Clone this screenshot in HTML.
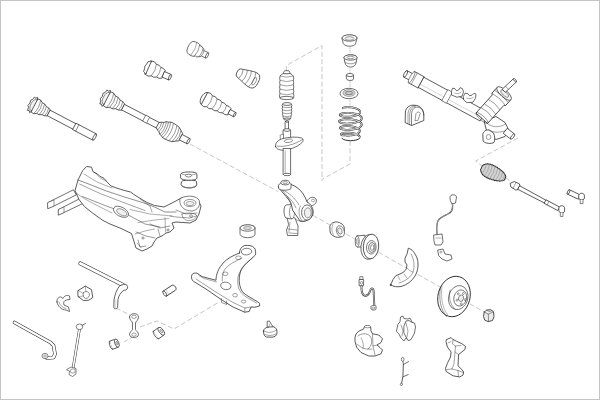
<!DOCTYPE html>
<html><head><meta charset="utf-8"><style>
html,body{margin:0;padding:0;background:#fff;font-family:"Liberation Sans",sans-serif;}
#c{position:relative;width:600px;height:400px;overflow:hidden;background:#fff;box-sizing:border-box;border:1px solid #c4c4c4;}
svg{position:absolute;left:-1px;top:-1px;}
</style></head><body><div id="c">
<svg width="600" height="400" viewBox="0 0 600 400">
<polyline points="286.4,71 286.4,65.5 322,45.5 322,181" fill="none" stroke="#8c8c8c" stroke-width="0.5" stroke-dasharray="5,2.5" stroke-linejoin="round"/>
<polyline points="350,141 350,164 322.5,179" fill="none" stroke="#8c8c8c" stroke-width="0.5" stroke-dasharray="5,2.5" stroke-linejoin="round"/>
<polyline points="190,144 278,191.5" fill="none" stroke="#8c8c8c" stroke-width="0.5" stroke-dasharray="5,2.5" stroke-linejoin="round"/>
<polyline points="300,208 495,318" fill="none" stroke="#8c8c8c" stroke-width="0.5" stroke-dasharray="5,2.5" stroke-linejoin="round"/>
<polyline points="518,138 475.7,161 482,166" fill="none" stroke="#8c8c8c" stroke-width="0.5" stroke-dasharray="5,2.5" stroke-linejoin="round"/>
<polyline points="505.5,177.5 511.5,182.3" fill="none" stroke="#8c8c8c" stroke-width="0.5" stroke-dasharray="5,2.5" stroke-linejoin="round"/>
<polyline points="140,327 157,321 174,329 219,302" fill="none" stroke="#8c8c8c" stroke-width="0.5" stroke-dasharray="5,2.5" stroke-linejoin="round"/>
<polyline points="116,308 130,315" fill="none" stroke="#8c8c8c" stroke-width="0.5" stroke-dasharray="5,2.5" stroke-linejoin="round"/>
<polyline points="134,336 124,342" fill="none" stroke="#8c8c8c" stroke-width="0.5" stroke-dasharray="5,2.5" stroke-linejoin="round"/>
<g transform="translate(33,104.7) rotate(27.7) scale(1)">
<path d="M4.40,0.00 L3.31,2.41 L3.37,5.66 L1.76,6.10 L0.76,8.67 L-0.61,6.93 L-2.20,7.62 L-2.70,4.53 L-4.13,3.01 L-3.52,0.00 L-4.13,-3.01 L-2.70,-4.53 L-2.20,-7.62 L-0.61,-6.93 L0.76,-8.67 L1.76,-6.10 L3.37,-5.66 L3.31,-2.41Z" fill="#fff" stroke="#303030" stroke-width="0.7" stroke-linejoin="round" stroke-linecap="round" />
<ellipse cx="0.8" cy="0" rx="3.0" ry="6.2" fill="#f2f2f2" stroke="#303030" stroke-width="0.5" transform="rotate(0 0.8 0)"/>
<path d="M2.00,-7.40 L4.67,-7.70 L7.33,-6.00 L10.00,-6.10 L12.67,-4.60 L15.33,-4.48 L18.00,-3.20 L18.00,3.20 L15.33,4.48 L12.67,4.60 L10.00,6.10 L7.33,6.00 L4.67,7.70 L2.00,7.40Z" fill="#fff" stroke="#303030" stroke-width="0.7" stroke-linejoin="round" stroke-linecap="round" />
<path d="M4.67,-7.70 Q7.36,0 4.67,7.70" fill="none" stroke="#303030" stroke-width="0.45"/>
<path d="M7.33,-6.00 Q9.43,0 7.33,6.00" fill="none" stroke="#303030" stroke-width="0.45"/>
<path d="M10.00,-6.10 Q12.13,0 10.00,6.10" fill="none" stroke="#303030" stroke-width="0.45"/>
<path d="M12.67,-4.60 Q14.28,0 12.67,4.60" fill="none" stroke="#303030" stroke-width="0.45"/>
<path d="M15.33,-4.48 Q16.90,0 15.33,4.48" fill="none" stroke="#303030" stroke-width="0.45"/>
<path d="M18,-3.1 L48,-3.1 L48,3.1 L18,3.1Z" fill="#fff" stroke="#303030" stroke-width="0.7" stroke-linejoin="round" stroke-linecap="round" />
<path d="M47,-3.6 L69.5,-3.6 L69.5,3.6 L47,3.6Z" fill="#fff" stroke="#303030" stroke-width="0.7" stroke-linejoin="round" stroke-linecap="round" />
<ellipse cx="69.5" cy="0" rx="1.2" ry="3.6" fill="#fff" stroke="#303030" stroke-width="0.7" transform="rotate(0 69.5 0)"/>
<line x1="50" y1="-3.6" x2="50" y2="3.6" stroke="#303030" stroke-width="0.5" stroke-linecap="round"/>
</g>
<g transform="translate(105.5,98) rotate(27.5) scale(1)">
<path d="M4.60,0.00 L3.46,2.52 L3.52,5.91 L1.84,6.37 L0.80,9.06 L-0.64,7.25 L-2.30,7.97 L-2.82,4.73 L-4.32,3.15 L-3.68,0.00 L-4.32,-3.15 L-2.82,-4.73 L-2.30,-7.97 L-0.64,-7.25 L0.80,-9.06 L1.84,-6.37 L3.52,-5.91 L3.46,-2.52Z" fill="#fff" stroke="#303030" stroke-width="0.7" stroke-linejoin="round" stroke-linecap="round" />
<ellipse cx="0.8" cy="0" rx="3.1" ry="6.5" fill="#f2f2f2" stroke="#303030" stroke-width="0.5" transform="rotate(0 0.8 0)"/>
<path d="M2.00,-7.80 L5.00,-8.13 L8.00,-6.33 L11.00,-6.44 L14.00,-4.87 L17.00,-4.75 L20.00,-3.40 L20.00,3.40 L17.00,4.75 L14.00,4.87 L11.00,6.44 L8.00,6.33 L5.00,8.13 L2.00,7.80Z" fill="#fff" stroke="#303030" stroke-width="0.7" stroke-linejoin="round" stroke-linecap="round" />
<path d="M5.00,-8.13 Q7.84,0 5.00,8.13" fill="none" stroke="#303030" stroke-width="0.45"/>
<path d="M8.00,-6.33 Q10.22,0 8.00,6.33" fill="none" stroke="#303030" stroke-width="0.45"/>
<path d="M11.00,-6.44 Q13.25,0 11.00,6.44" fill="none" stroke="#303030" stroke-width="0.45"/>
<path d="M14.00,-4.87 Q15.70,0 14.00,4.87" fill="none" stroke="#303030" stroke-width="0.45"/>
<path d="M17.00,-4.75 Q18.66,0 17.00,4.75" fill="none" stroke="#303030" stroke-width="0.45"/>
<path d="M20,-3.1 L60,-3.1 L60,3.1 L20,3.1Z" fill="#fff" stroke="#303030" stroke-width="0.7" stroke-linejoin="round" stroke-linecap="round" />
<path d="M44,-3.4 L48,-3.4 L48,3.4 L44,3.4Z" fill="#fff" stroke="#303030" stroke-width="0.5" stroke-linejoin="round" stroke-linecap="round" />
<path d="M59.00,-3.00 L61.00,-4.50 L63.00,-5.20 L65.00,-7.20 L67.00,-7.60 L69.00,-8.80 L72.00,-9.00 L76.00,-8.60 L79.00,-8.00 L82.00,-6.00 L85.00,-4.00 L85.00,4.00 L82.00,6.00 L79.00,8.00 L76.00,8.60 L72.00,9.00 L69.00,8.80 L67.00,7.60 L65.00,7.20 L63.00,5.20 L61.00,4.50 L59.00,3.00Z" fill="#fff" stroke="#303030" stroke-width="0.7" stroke-linejoin="round" stroke-linecap="round" />
<path d="M61.00,-4.50 Q62.58,0 61.00,4.50" fill="none" stroke="#303030" stroke-width="0.45"/>
<path d="M63.00,-5.20 Q64.82,0 63.00,5.20" fill="none" stroke="#303030" stroke-width="0.45"/>
<path d="M65.00,-7.20 Q67.52,0 65.00,7.20" fill="none" stroke="#303030" stroke-width="0.45"/>
<path d="M67.00,-7.60 Q69.66,0 67.00,7.60" fill="none" stroke="#303030" stroke-width="0.45"/>
<path d="M69.00,-8.80 Q72.08,0 69.00,8.80" fill="none" stroke="#303030" stroke-width="0.45"/>
<path d="M72.00,-9.00 Q75.15,0 72.00,9.00" fill="none" stroke="#303030" stroke-width="0.45"/>
<path d="M76.00,-8.60 Q79.01,0 76.00,8.60" fill="none" stroke="#303030" stroke-width="0.45"/>
<path d="M79.00,-8.00 Q81.80,0 79.00,8.00" fill="none" stroke="#303030" stroke-width="0.45"/>
<path d="M82.00,-6.00 Q84.10,0 82.00,6.00" fill="none" stroke="#303030" stroke-width="0.45"/>
<path d="M85,-3.0 L93.5,-3.0 L93.5,3.0 L85,3.0Z" fill="#fff" stroke="#303030" stroke-width="0.7" stroke-linejoin="round" stroke-linecap="round" />
<ellipse cx="93.5" cy="0" rx="1.1" ry="3.0" fill="#fff" stroke="#303030" stroke-width="0.7" transform="rotate(0 93.5 0)"/>
</g>
<g transform="translate(148,67.5) rotate(24) scale(1)">
<path d="M3.40,0.00 L2.67,2.47 L2.40,5.37 L1.11,5.97 L0.00,7.60 L-1.11,5.97 L-2.40,5.37 L-2.67,2.47 L-3.40,0.00 L-2.67,-2.47 L-2.40,-5.37 L-1.11,-5.97 L-0.00,-7.60 L1.11,-5.97 L2.40,-5.37 L2.67,-2.47Z" fill="#fff" stroke="#303030" stroke-width="0.7" stroke-linejoin="round" stroke-linecap="round" />
<path d="M1.00,-7.40 L3.67,-7.83 L6.33,-6.33 L9.00,-6.61 L11.67,-5.27 L14.33,-5.40 L17.00,-4.20 L17.00,4.20 L14.33,5.40 L11.67,5.27 L9.00,6.61 L6.33,6.33 L3.67,7.83 L1.00,7.40Z" fill="#fff" stroke="#303030" stroke-width="0.7" stroke-linejoin="round" stroke-linecap="round" />
<path d="M6.33,-6.33 Q8.55,0 6.33,6.33" fill="none" stroke="#303030" stroke-width="0.45"/>
<path d="M11.67,-5.27 Q13.51,0 11.67,5.27" fill="none" stroke="#303030" stroke-width="0.45"/>
<path d="M17,-3.0 L24,-3.0 L24,3.0 L17,3.0Z" fill="#fff" stroke="#303030" stroke-width="0.7" stroke-linejoin="round" stroke-linecap="round" />
<ellipse cx="24" cy="0" rx="1.1" ry="3.0" fill="#fff" stroke="#303030" stroke-width="0.7" transform="rotate(0 24 0)"/>
</g>
<g transform="translate(193.7,48.9) rotate(26) scale(0.9)">
<path d="M-6.50,-2.50 L-6.00,-5.00 L-4.50,-7.00 L-2.00,-7.90 L2.00,-7.90 L4.00,-7.20 L5.00,-6.20 L7.00,-6.50 L9.00,-5.20 L10.20,-4.80 L11.00,-3.30 L16.50,-3.30 L16.50,3.30 L11.00,3.30 L10.20,4.80 L9.00,5.20 L7.00,6.50 L5.00,6.20 L4.00,7.20 L2.00,7.90 L-2.00,7.90 L-4.50,7.00 L-6.00,5.00 L-6.50,2.50Z" fill="#fff" stroke="#303030" stroke-width="0.7" stroke-linejoin="round" stroke-linecap="round" />
<path d="M4,-7.2 Q6.52,0 4,7.2" fill="none" stroke="#303030" stroke-width="0.5"/>
<path d="M9,-5.2 Q10.82,0 9,5.2" fill="none" stroke="#303030" stroke-width="0.5"/>
<path d="M11,-3.3 Q12.155,0 11,3.3" fill="none" stroke="#303030" stroke-width="0.5"/>
<path d="M0,-7.9 Q2.5,0 0,7.9" fill="none" stroke="#303030" stroke-width="0.4"/>
<ellipse cx="16.5" cy="0" rx="1.2" ry="3.3" fill="#fff" stroke="#303030" stroke-width="0.7" transform="rotate(0 16.5 0)"/>
</g>
<g transform="translate(239.2,73) rotate(27) scale(1)">
<path d="M-2.20,-1.50 L-1.80,-3.20 L-0.50,-4.40 L2.00,-5.00 L4.00,-5.70 L6.00,-6.20 L8.00,-6.80 L10.00,-7.30 L12.00,-7.80 L14.50,-8.10 L17.00,-8.00 L19.00,-7.20 L20.30,-5.50 L21.00,-3.50 L21.20,-0.50 L21.20,0.50 L21.00,3.50 L20.30,5.50 L19.00,7.20 L17.00,8.00 L14.50,8.10 L12.00,7.80 L10.00,7.30 L8.00,6.80 L6.00,6.20 L4.00,5.70 L2.00,5.00 L-0.50,4.40 L-1.80,3.20 L-2.20,1.50Z" fill="#fff" stroke="#303030" stroke-width="0.7" stroke-linejoin="round" stroke-linecap="round" />
<path d="M2,-5.0 Q4.0,0 2,5.0" fill="none" stroke="#303030" stroke-width="0.45"/>
<path d="M6,-6.2 Q8.48,0 6,6.2" fill="none" stroke="#303030" stroke-width="0.45"/>
<path d="M10,-7.3 Q12.92,0 10,7.3" fill="none" stroke="#303030" stroke-width="0.45"/>
<path d="M14.5,-8.1 Q17.740000000000002,0 14.5,8.1" fill="none" stroke="#303030" stroke-width="0.45"/>
<ellipse cx="17.2" cy="0.5" rx="1.6" ry="4.2" fill="none" stroke="#303030" stroke-width="0.45" transform="rotate(0 17.2 0.5)"/>
</g>
<g transform="translate(203.8,98.2) rotate(28) scale(1)">
<path d="M1,-6.8 C-4,-6.8 -4,6.8 1,6.8 Z" fill="#fff" stroke="#303030" stroke-width="0.7" stroke-linejoin="round" stroke-linecap="round" />
<path d="M1.00,-6.80 L3.80,-7.52 L6.60,-6.16 L9.40,-6.77 L12.20,-5.52 L15.00,-6.03 L17.80,-4.88 L20.60,-5.29 L23.40,-4.24 L26.20,-4.55 L29.00,-3.60 L29.00,3.60 L26.20,4.55 L23.40,4.24 L20.60,5.29 L17.80,4.88 L15.00,6.03 L12.20,5.52 L9.40,6.77 L6.60,6.16 L3.80,7.52 L1.00,6.80Z" fill="#fff" stroke="#303030" stroke-width="0.7" stroke-linejoin="round" stroke-linecap="round" />
<path d="M6.60,-6.16 Q8.76,0 6.60,6.16" fill="none" stroke="#303030" stroke-width="0.45"/>
<path d="M12.20,-5.52 Q14.13,0 12.20,5.52" fill="none" stroke="#303030" stroke-width="0.45"/>
<path d="M17.80,-4.88 Q19.51,0 17.80,4.88" fill="none" stroke="#303030" stroke-width="0.45"/>
<path d="M23.40,-4.24 Q24.88,0 23.40,4.24" fill="none" stroke="#303030" stroke-width="0.45"/>
<path d="M29,-2.4 L35,-2.4 L35,2.4 L29,2.4Z" fill="#fff" stroke="#303030" stroke-width="0.7" stroke-linejoin="round" stroke-linecap="round" />
<ellipse cx="35" cy="0" rx="0.9" ry="2.4" fill="#fff" stroke="#303030" stroke-width="0.7" transform="rotate(0 35 0)"/>
</g>
<g transform="translate(286.7,71) rotate(90) scale(1)">
<path d="M0.00,-2.20 L1.20,-3.00 L2.50,-3.40 L3.50,-5.20 L5.00,-6.60 L7.20,-7.02 L9.40,-6.64 L11.60,-7.06 L13.80,-6.68 L16.00,-7.10 L18.20,-6.72 L20.40,-7.14 L22.60,-6.76 L24.80,-7.19 L27.00,-6.80 L27.00,6.80 L24.80,7.19 L22.60,6.76 L20.40,7.14 L18.20,6.72 L16.00,7.10 L13.80,6.68 L11.60,7.06 L9.40,6.64 L7.20,7.02 L5.00,6.60 L3.50,5.20 L2.50,3.40 L1.20,3.00 L0.00,2.20Z" fill="#fff" stroke="#303030" stroke-width="0.7" stroke-linejoin="round" stroke-linecap="round" />
<path d="M2.50,-3.40 Q3.69,0 2.50,3.40" fill="none" stroke="#303030" stroke-width="0.45"/>
<path d="M5.00,-6.60 Q7.31,0 5.00,6.60" fill="none" stroke="#303030" stroke-width="0.45"/>
<path d="M9.40,-6.64 Q11.72,0 9.40,6.64" fill="none" stroke="#303030" stroke-width="0.45"/>
<path d="M13.80,-6.68 Q16.14,0 13.80,6.68" fill="none" stroke="#303030" stroke-width="0.45"/>
<path d="M18.20,-6.72 Q20.55,0 18.20,6.72" fill="none" stroke="#303030" stroke-width="0.45"/>
<path d="M22.60,-6.76 Q24.97,0 22.60,6.76" fill="none" stroke="#303030" stroke-width="0.45"/>
<ellipse cx="27" cy="0" rx="1.6" ry="6.8" fill="#fff" stroke="#303030" stroke-width="0.7" transform="rotate(0 27 0)"/>
<line x1="2.5" y1="-3.3" x2="2.5" y2="3.3" stroke="#303030" stroke-width="0.45" stroke-linecap="round"/>
</g>
<g transform="translate(287,104) rotate(90) scale(1)">
<path d="M0.00,-4.30 L1.50,-4.90 L3.00,-4.30 L4.50,-4.90 L6.00,-4.30 L7.50,-4.80 L9.00,-4.20 L10.50,-4.60 L12.00,-4.00 L13.50,-3.90 L15.00,-3.20 L15.00,3.20 L13.50,3.90 L12.00,4.00 L10.50,4.60 L9.00,4.20 L7.50,4.80 L6.00,4.30 L4.50,4.90 L3.00,4.30 L1.50,4.90 L0.00,4.30Z" fill="#fff" stroke="#303030" stroke-width="0.7" stroke-linejoin="round" stroke-linecap="round" />
<path d="M3.00,-4.30 Q4.50,0 3.00,4.30" fill="none" stroke="#303030" stroke-width="0.45"/>
<path d="M6.00,-4.30 Q7.50,0 6.00,4.30" fill="none" stroke="#303030" stroke-width="0.45"/>
<path d="M9.00,-4.20 Q10.47,0 9.00,4.20" fill="none" stroke="#303030" stroke-width="0.45"/>
<path d="M12.00,-4.00 Q13.40,0 12.00,4.00" fill="none" stroke="#303030" stroke-width="0.45"/>
<ellipse cx="0" cy="0" rx="1.4" ry="4.3" fill="#fff" stroke="#303030" stroke-width="0.7" transform="rotate(0 0 0)"/>
<ellipse cx="15" cy="0" rx="1.0" ry="3.2" fill="#fff" stroke="#303030" stroke-width="0.7" transform="rotate(0 15 0)"/>
</g>
<path d="M285.5,121.5 L288.5,121.5 L288.5,130 L285.5,130Z" fill="#fff" stroke="#303030" stroke-width="0.7" stroke-linejoin="round" stroke-linecap="round" />
<ellipse cx="287" cy="121.5" rx="1.5" ry="0.7" fill="#fff" stroke="#303030" stroke-width="0.7" transform="rotate(0 287 121.5)"/>
<path d="M283.5,130 L290.6,130 L290.6,139 L283.5,139Z" fill="#fff" stroke="#303030" stroke-width="0.7" stroke-linejoin="round" stroke-linecap="round" />
<ellipse cx="287" cy="130" rx="3.55" ry="1.3" fill="#fff" stroke="#303030" stroke-width="0.7" transform="rotate(0 287 130)"/>
<path d="M280.5,135 L283.5,134 L283.5,139 L280.8,140Z" fill="#fff" stroke="#303030" stroke-width="0.5" stroke-linejoin="round" stroke-linecap="round" />
<path d="M275.5,146.5 C275,142.5 278,140 283,138.5 C289,137 297,136.5 301.5,138 C304,139 303.5,141.5 301,143.5 C297.5,146.5 291,149.5 285,150.2 C280,150.5 276,149 275.5,146.5Z" fill="#fff" stroke="#303030" stroke-width="0.7" stroke-linejoin="round" stroke-linecap="round" />
<path d="M277,146 C283,147.5 294,145 302.5,139.5" fill="none" stroke="#303030" stroke-width="0.5" stroke-linejoin="round" stroke-linecap="round" />
<ellipse cx="288.5" cy="140.8" rx="4.2" ry="1.7" fill="#fff" stroke="#303030" stroke-width="0.5" transform="rotate(-8 288.5 140.8)"/>
<path d="M283.5,148.5 L290.6,148.5 L290.6,174.5 L283.5,174.5Z" fill="#fff" stroke="#303030" stroke-width="0.7" stroke-linejoin="round" stroke-linecap="round" />
<ellipse cx="287" cy="174.5" rx="3.55" ry="1.2" fill="#fff" stroke="#303030" stroke-width="0.7" transform="rotate(0 287 174.5)"/>
<line x1="285.2" y1="151" x2="285.2" y2="172.5" stroke="#303030" stroke-width="0.4" stroke-linecap="round"/>
<path d="M342,38 C342,34 357,34 357,38 L355.5,44 C354,47 345,47 343.5,44Z" fill="#fff" stroke="#303030" stroke-width="0.7" stroke-linejoin="round" stroke-linecap="round" />
<ellipse cx="349.5" cy="38" rx="7.5" ry="3.2" fill="#fff" stroke="#303030" stroke-width="0.7" transform="rotate(0 349.5 38)"/>
<ellipse cx="349.5" cy="38.5" rx="4.5" ry="1.8" fill="#f2f2f2" stroke="#303030" stroke-width="0.5" transform="rotate(0 349.5 38.5)"/>
<path d="M344,57.5 C344,54 357,54 357,57.5 L356,63 C355,68.5 346,68.5 345,63Z" fill="#fff" stroke="#303030" stroke-width="0.7" stroke-linejoin="round" stroke-linecap="round" />
<ellipse cx="350.5" cy="57.5" rx="6.5" ry="2.7" fill="#fff" stroke="#303030" stroke-width="0.7" transform="rotate(0 350.5 57.5)"/>
<path d="M345,62 C347,64.5 354,64.5 356,62" fill="none" stroke="#303030" stroke-width="0.5" stroke-linejoin="round" stroke-linecap="round" />
<ellipse cx="350.5" cy="57.5" rx="3.5" ry="1.4" fill="#f2f2f2" stroke="#303030" stroke-width="0.5" transform="rotate(0 350.5 57.5)"/>
<path d="M346.5,75 L353.5,75 L353.5,79 C353.5,81 346.5,81 346.5,79Z" fill="#fff" stroke="#303030" stroke-width="0.7" stroke-linejoin="round" stroke-linecap="round" />
<ellipse cx="350" cy="75" rx="3.5" ry="1.6" fill="#fff" stroke="#303030" stroke-width="0.7" transform="rotate(0 350 75)"/>
<ellipse cx="349" cy="93.5" rx="9" ry="5.2" fill="#fff" stroke="#303030" stroke-width="0.7" transform="rotate(0 349 93.5)"/>
<ellipse cx="349" cy="93" rx="6" ry="3.3" fill="#fff" stroke="#303030" stroke-width="0.5" transform="rotate(0 349 93)"/>
<ellipse cx="349" cy="93" rx="3.5" ry="1.8" fill="#f0f0f0" stroke="#303030" stroke-width="0.5" transform="rotate(0 349 93)"/>
<line x1="345" y1="91.2" x2="345" y2="94.8" stroke="#303030" stroke-width="0.4" stroke-linecap="round"/>
<line x1="347" y1="91.2" x2="347" y2="94.8" stroke="#303030" stroke-width="0.4" stroke-linecap="round"/>
<line x1="349" y1="91.2" x2="349" y2="94.8" stroke="#303030" stroke-width="0.4" stroke-linecap="round"/>
<line x1="351" y1="91.2" x2="351" y2="94.8" stroke="#303030" stroke-width="0.4" stroke-linecap="round"/>
<line x1="353" y1="91.2" x2="353" y2="94.8" stroke="#303030" stroke-width="0.4" stroke-linecap="round"/>
<path d="M343.00,108.50 L342.87,108.40 L342.84,108.30 L342.86,108.19 L342.92,108.09 L343.03,107.98 L343.19,107.88 L343.39,107.78 L343.63,107.69 L343.91,107.60 L344.23,107.51 L344.59,107.44 L344.98,107.37 L345.41,107.31 L345.87,107.26 L346.35,107.22 L346.87,107.19 L347.41,107.17 L347.97,107.17 L348.54,107.18 L349.14,107.20 L349.75,107.23 L350.36,107.28 L350.98,107.35 L351.61,107.43 L352.24,107.52 L352.86,107.63 L353.48,107.75 L354.08,107.88 L354.67,108.03 L355.25,108.19 L355.81,108.37 L356.34,108.56 L356.85,108.76 L357.33,108.98 L357.78,109.20 L358.19,109.44 L358.57,109.68 L358.91,109.94 L359.21,110.20 L359.47,110.47 L359.68,110.74 L359.85,111.02 L359.98,111.31 L360.05,111.59 L360.08,111.88 L360.06,112.17 L359.99,112.46 L359.88,112.75 L359.71,113.04 L359.50,113.32 L359.24,113.59 L358.93,113.87 L358.58,114.13 L358.19,114.39 L357.76,114.63 L357.28,114.87 L356.77,115.10 L356.23,115.31 L355.65,115.52 L355.05,115.71 L354.42,115.88 L353.76,116.04 L353.09,116.19 L352.40,116.32 L351.69,116.44 L350.98,116.54 L350.26,116.62 L349.54,116.69 L348.82,116.74 L348.10,116.77 L347.40,116.79 L346.70,116.79 L346.02,116.77 L345.37,116.75 L344.73,116.70 L344.12,116.64 L343.54,116.57 L342.99,116.48 L342.48,116.38 L342.01,116.27 L341.58,116.15 L341.19,116.02 L340.84,115.88 L340.55,115.74 L340.30,115.58 L340.10,115.42 L339.96,115.26 L339.86,115.09 L339.82,114.93 L339.84,114.76 L339.90,114.59 L340.02,114.42 L340.20,114.26 L340.42,114.10 L340.70,113.94 L341.03,113.79 L341.41,113.65 L341.83,113.52 L342.30,113.40 L342.81,113.29 L343.36,113.19 L343.95,113.10 L344.57,113.03 L345.23,112.97 L345.91,112.93 L346.62,112.90 L347.35,112.89 L348.10,112.89 L348.86,112.92 L349.63,112.95 L350.41,113.01 L351.19,113.09 L351.97,113.18 L352.75,113.29 L353.51,113.42 L354.27,113.56 L355.00,113.72 L355.71,113.90 L356.40,114.10 L357.06,114.31 L357.69,114.53 L358.29,114.77 L358.85,115.03 L359.36,115.29 L359.84,115.57 L360.26,115.85 L360.64,116.15 L360.97,116.45 L361.25,116.77 L361.47,117.08 L361.64,117.40 L361.75,117.73 L361.81,118.06 L361.81,118.39 L361.75,118.71 L361.64,119.04 L361.47,119.36 L361.24,119.68 L360.96,120.00 L360.63,120.30 L360.25,120.60 L359.81,120.89 L359.33,121.17 L358.81,121.44 L358.24,121.69 L357.63,121.93 L356.99,122.16 L356.31,122.38 L355.61,122.57 L354.88,122.76 L354.12,122.92 L353.35,123.07 L352.56,123.20 L351.76,123.31 L350.95,123.40 L350.14,123.48 L349.33,123.53 L348.53,123.57 L347.73,123.59 L346.95,123.59 L346.19,123.58 L345.45,123.55 L344.73,123.50 L344.04,123.43 L343.39,123.35 L342.77,123.26 L342.18,123.15 L341.64,123.02 L341.15,122.89 L340.70,122.75 L340.30,122.59 L339.95,122.43 L339.65,122.26 L339.41,122.09 L339.22,121.91 L339.09,121.72 L339.02,121.53 L339.00,121.35 L339.05,121.16 L339.15,120.97 L339.30,120.79 L339.52,120.61 L339.78,120.44 L340.11,120.27 L340.48,120.12 L340.90,119.97 L341.37,119.83 L341.89,119.70 L342.45,119.59 L343.05,119.48 L343.69,119.40 L344.36,119.32 L345.06,119.27 L345.79,119.22 L346.54,119.20 L347.31,119.19 L348.09,119.20 L348.89,119.23 L349.69,119.28 L350.50,119.34 L351.31,119.43 L352.11,119.53 L352.90,119.65 L353.68,119.79 L354.44,119.94 L355.18,120.12 L355.90,120.30 L356.59,120.51 L357.25,120.73 L357.87,120.96 L358.46,121.21 L359.00,121.47 L359.50,121.74 L359.96,122.03 L360.37,122.32 L360.72,122.62 L361.03,122.93 L361.28,123.24 L361.48,123.56 L361.62,123.89 L361.71,124.21 L361.73,124.54 L361.71,124.86 L361.63,125.19 L361.49,125.51 L361.29,125.83 L361.05,126.14 L360.75,126.45 L360.40,126.75 L360.00,127.04 L359.55,127.32 L359.06,127.59 L358.53,127.84 L357.96,128.09 L357.36,128.32 L356.72,128.54 L356.05,128.74 L355.35,128.93 L354.64,129.10 L353.90,129.25 L353.15,129.38 L352.39,129.50 L351.62,129.61 L350.84,129.69 L350.07,129.76 L349.30,129.80 L348.54,129.84 L347.80,129.85 L347.06,129.85 L346.35,129.83 L345.66,129.80 L345.00,129.75 L344.37,129.68 L343.77,129.60 L343.20,129.51 L342.68,129.41 L342.19,129.30 L341.75,129.17 L341.35,129.04 L341.01,128.90 L340.71,128.75 L340.46,128.60 L340.26,128.44 L340.11,128.27 L340.02,128.11 L339.98,127.94 L339.99,127.78 L340.06,127.61 L340.17,127.45 L340.34,127.29 L340.56,127.14 L340.83,126.99 L341.14,126.85 L341.50,126.72 L341.91,126.60 L342.35,126.49 L342.84,126.39 L343.36,126.30 L343.91,126.22 L344.50,126.16 L345.11,126.11 L345.74,126.07 L346.40,126.05 L347.07,126.04 L347.76,126.05 L348.46,126.08 L349.16,126.12 L349.87,126.18 L350.58,126.26 L351.28,126.35 L351.98,126.45 L352.66,126.58 L353.33,126.71 L353.98,126.87 L354.61,127.03 L355.22,127.21 L355.80,127.41 L356.34,127.61 L356.86,127.83 L357.34,128.06 L357.78,128.30 L358.19,128.55 L358.55,128.80 L358.87,129.07 L359.15,129.34 L359.38,129.61 L359.56,129.89 L359.70,130.17 L359.79,130.46 L359.83,130.74 L359.83,131.02 L359.78,131.31 L359.68,131.59 L359.53,131.86 L359.35,132.14 L359.11,132.40 L358.84,132.66 L358.53,132.92 L358.18,133.16 L357.79,133.39 L357.37,133.62 L356.92,133.83 L356.44,134.04 L355.93,134.23 L355.40,134.41 L354.85,134.57 L354.28,134.73 L353.70,134.87 L353.11,134.99 L352.51,135.10 L351.91,135.20 L351.30,135.29 L350.70,135.35 L350.10,135.41 L349.51,135.45 L348.94,135.48 L348.38,135.50 L347.83,135.50 L347.31,135.49 L346.81,135.47 L346.34,135.43 L345.89,135.39 L345.48,135.34 L345.11,135.28 L344.77,135.21 L344.47,135.13 L344.22,135.05 L342.32,135.28 L342.00,135.16 L341.72,135.04 L341.49,134.91 L341.30,134.78 L341.15,134.64 L341.06,134.50 L341.01,134.36 L341.00,134.21 L341.05,134.07 L341.14,133.93 L341.28,133.79 L341.46,133.66 L341.69,133.53 L341.97,133.41 L342.29,133.29 L342.64,133.18 L343.04,133.08 L343.47,132.99 L343.94,132.91 L344.44,132.84 L344.98,132.78 L345.54,132.73 L346.12,132.70 L346.73,132.68 L347.35,132.67 L347.99,132.68 L348.65,132.71 L349.31,132.74 L349.98,132.80 L350.65,132.87 L351.32,132.95 L351.99,133.05 L352.65,133.16 L353.29,133.29 L353.93,133.43 L354.54,133.59 L355.14,133.76 L355.72,133.94 L356.26,134.14 L356.78,134.35 L357.27,134.57 L357.72,134.80 L358.14,135.04 L358.52,135.29 L358.86,135.55 L359.16,135.81 L359.41,136.09 L359.62,136.36 L359.79,136.64 L359.91,136.93 L359.98,137.21 L360.00,137.50" fill="none" stroke="#303030" stroke-width="1.9" stroke-linejoin="round"/>
<path d="M343.00,108.50 L342.87,108.40 L342.84,108.30 L342.86,108.19 L342.92,108.09 L343.03,107.98 L343.19,107.88 L343.39,107.78 L343.63,107.69 L343.91,107.60 L344.23,107.51 L344.59,107.44 L344.98,107.37 L345.41,107.31 L345.87,107.26 L346.35,107.22 L346.87,107.19 L347.41,107.17 L347.97,107.17 L348.54,107.18 L349.14,107.20 L349.75,107.23 L350.36,107.28 L350.98,107.35 L351.61,107.43 L352.24,107.52 L352.86,107.63 L353.48,107.75 L354.08,107.88 L354.67,108.03 L355.25,108.19 L355.81,108.37 L356.34,108.56 L356.85,108.76 L357.33,108.98 L357.78,109.20 L358.19,109.44 L358.57,109.68 L358.91,109.94 L359.21,110.20 L359.47,110.47 L359.68,110.74 L359.85,111.02 L359.98,111.31 L360.05,111.59 L360.08,111.88 L360.06,112.17 L359.99,112.46 L359.88,112.75 L359.71,113.04 L359.50,113.32 L359.24,113.59 L358.93,113.87 L358.58,114.13 L358.19,114.39 L357.76,114.63 L357.28,114.87 L356.77,115.10 L356.23,115.31 L355.65,115.52 L355.05,115.71 L354.42,115.88 L353.76,116.04 L353.09,116.19 L352.40,116.32 L351.69,116.44 L350.98,116.54 L350.26,116.62 L349.54,116.69 L348.82,116.74 L348.10,116.77 L347.40,116.79 L346.70,116.79 L346.02,116.77 L345.37,116.75 L344.73,116.70 L344.12,116.64 L343.54,116.57 L342.99,116.48 L342.48,116.38 L342.01,116.27 L341.58,116.15 L341.19,116.02 L340.84,115.88 L340.55,115.74 L340.30,115.58 L340.10,115.42 L339.96,115.26 L339.86,115.09 L339.82,114.93 L339.84,114.76 L339.90,114.59 L340.02,114.42 L340.20,114.26 L340.42,114.10 L340.70,113.94 L341.03,113.79 L341.41,113.65 L341.83,113.52 L342.30,113.40 L342.81,113.29 L343.36,113.19 L343.95,113.10 L344.57,113.03 L345.23,112.97 L345.91,112.93 L346.62,112.90 L347.35,112.89 L348.10,112.89 L348.86,112.92 L349.63,112.95 L350.41,113.01 L351.19,113.09 L351.97,113.18 L352.75,113.29 L353.51,113.42 L354.27,113.56 L355.00,113.72 L355.71,113.90 L356.40,114.10 L357.06,114.31 L357.69,114.53 L358.29,114.77 L358.85,115.03 L359.36,115.29 L359.84,115.57 L360.26,115.85 L360.64,116.15 L360.97,116.45 L361.25,116.77 L361.47,117.08 L361.64,117.40 L361.75,117.73 L361.81,118.06 L361.81,118.39 L361.75,118.71 L361.64,119.04 L361.47,119.36 L361.24,119.68 L360.96,120.00 L360.63,120.30 L360.25,120.60 L359.81,120.89 L359.33,121.17 L358.81,121.44 L358.24,121.69 L357.63,121.93 L356.99,122.16 L356.31,122.38 L355.61,122.57 L354.88,122.76 L354.12,122.92 L353.35,123.07 L352.56,123.20 L351.76,123.31 L350.95,123.40 L350.14,123.48 L349.33,123.53 L348.53,123.57 L347.73,123.59 L346.95,123.59 L346.19,123.58 L345.45,123.55 L344.73,123.50 L344.04,123.43 L343.39,123.35 L342.77,123.26 L342.18,123.15 L341.64,123.02 L341.15,122.89 L340.70,122.75 L340.30,122.59 L339.95,122.43 L339.65,122.26 L339.41,122.09 L339.22,121.91 L339.09,121.72 L339.02,121.53 L339.00,121.35 L339.05,121.16 L339.15,120.97 L339.30,120.79 L339.52,120.61 L339.78,120.44 L340.11,120.27 L340.48,120.12 L340.90,119.97 L341.37,119.83 L341.89,119.70 L342.45,119.59 L343.05,119.48 L343.69,119.40 L344.36,119.32 L345.06,119.27 L345.79,119.22 L346.54,119.20 L347.31,119.19 L348.09,119.20 L348.89,119.23 L349.69,119.28 L350.50,119.34 L351.31,119.43 L352.11,119.53 L352.90,119.65 L353.68,119.79 L354.44,119.94 L355.18,120.12 L355.90,120.30 L356.59,120.51 L357.25,120.73 L357.87,120.96 L358.46,121.21 L359.00,121.47 L359.50,121.74 L359.96,122.03 L360.37,122.32 L360.72,122.62 L361.03,122.93 L361.28,123.24 L361.48,123.56 L361.62,123.89 L361.71,124.21 L361.73,124.54 L361.71,124.86 L361.63,125.19 L361.49,125.51 L361.29,125.83 L361.05,126.14 L360.75,126.45 L360.40,126.75 L360.00,127.04 L359.55,127.32 L359.06,127.59 L358.53,127.84 L357.96,128.09 L357.36,128.32 L356.72,128.54 L356.05,128.74 L355.35,128.93 L354.64,129.10 L353.90,129.25 L353.15,129.38 L352.39,129.50 L351.62,129.61 L350.84,129.69 L350.07,129.76 L349.30,129.80 L348.54,129.84 L347.80,129.85 L347.06,129.85 L346.35,129.83 L345.66,129.80 L345.00,129.75 L344.37,129.68 L343.77,129.60 L343.20,129.51 L342.68,129.41 L342.19,129.30 L341.75,129.17 L341.35,129.04 L341.01,128.90 L340.71,128.75 L340.46,128.60 L340.26,128.44 L340.11,128.27 L340.02,128.11 L339.98,127.94 L339.99,127.78 L340.06,127.61 L340.17,127.45 L340.34,127.29 L340.56,127.14 L340.83,126.99 L341.14,126.85 L341.50,126.72 L341.91,126.60 L342.35,126.49 L342.84,126.39 L343.36,126.30 L343.91,126.22 L344.50,126.16 L345.11,126.11 L345.74,126.07 L346.40,126.05 L347.07,126.04 L347.76,126.05 L348.46,126.08 L349.16,126.12 L349.87,126.18 L350.58,126.26 L351.28,126.35 L351.98,126.45 L352.66,126.58 L353.33,126.71 L353.98,126.87 L354.61,127.03 L355.22,127.21 L355.80,127.41 L356.34,127.61 L356.86,127.83 L357.34,128.06 L357.78,128.30 L358.19,128.55 L358.55,128.80 L358.87,129.07 L359.15,129.34 L359.38,129.61 L359.56,129.89 L359.70,130.17 L359.79,130.46 L359.83,130.74 L359.83,131.02 L359.78,131.31 L359.68,131.59 L359.53,131.86 L359.35,132.14 L359.11,132.40 L358.84,132.66 L358.53,132.92 L358.18,133.16 L357.79,133.39 L357.37,133.62 L356.92,133.83 L356.44,134.04 L355.93,134.23 L355.40,134.41 L354.85,134.57 L354.28,134.73 L353.70,134.87 L353.11,134.99 L352.51,135.10 L351.91,135.20 L351.30,135.29 L350.70,135.35 L350.10,135.41 L349.51,135.45 L348.94,135.48 L348.38,135.50 L347.83,135.50 L347.31,135.49 L346.81,135.47 L346.34,135.43 L345.89,135.39 L345.48,135.34 L345.11,135.28 L344.77,135.21 L344.47,135.13 L344.22,135.05 L342.32,135.28 L342.00,135.16 L341.72,135.04 L341.49,134.91 L341.30,134.78 L341.15,134.64 L341.06,134.50 L341.01,134.36 L341.00,134.21 L341.05,134.07 L341.14,133.93 L341.28,133.79 L341.46,133.66 L341.69,133.53 L341.97,133.41 L342.29,133.29 L342.64,133.18 L343.04,133.08 L343.47,132.99 L343.94,132.91 L344.44,132.84 L344.98,132.78 L345.54,132.73 L346.12,132.70 L346.73,132.68 L347.35,132.67 L347.99,132.68 L348.65,132.71 L349.31,132.74 L349.98,132.80 L350.65,132.87 L351.32,132.95 L351.99,133.05 L352.65,133.16 L353.29,133.29 L353.93,133.43 L354.54,133.59 L355.14,133.76 L355.72,133.94 L356.26,134.14 L356.78,134.35 L357.27,134.57 L357.72,134.80 L358.14,135.04 L358.52,135.29 L358.86,135.55 L359.16,135.81 L359.41,136.09 L359.62,136.36 L359.79,136.64 L359.91,136.93 L359.98,137.21 L360.00,137.50" fill="none" stroke="#fff" stroke-width="1.0" stroke-linejoin="round"/>
<path d="M342,138.5 C345,141.5 356,141.5 359.5,138.5" fill="none" stroke="#303030" stroke-width="1.0" stroke-linejoin="round" stroke-linecap="round" />
<line x1="350" y1="47" x2="350" y2="53" stroke="#777" stroke-width="0.4" stroke-dasharray="2,1.5" stroke-linecap="round"/>
<line x1="350" y1="69" x2="350" y2="73" stroke="#777" stroke-width="0.4" stroke-dasharray="2,1.5" stroke-linecap="round"/>
<line x1="350" y1="81" x2="350" y2="87" stroke="#777" stroke-width="0.4" stroke-dasharray="2,1.5" stroke-linecap="round"/>
<line x1="350" y1="100" x2="350" y2="105" stroke="#777" stroke-width="0.4" stroke-dasharray="2,1.5" stroke-linecap="round"/>
<g transform="translate(405.5,73.9) rotate(28.5) scale(1)">
<path d="M0,-3.6 L7,-3.6 L7,3.6 L0,3.6Z" fill="#fff" stroke="#303030" stroke-width="0.7" stroke-linejoin="round" stroke-linecap="round" />
<ellipse cx="0" cy="0" rx="1.4" ry="3.6" fill="#fff" stroke="#303030" stroke-width="0.7" transform="rotate(0 0 0)"/>
<path d="M7,-6.4 L18,-6.4 L18,6.4 L7,6.4Z" fill="#fff" stroke="#303030" stroke-width="0.7" stroke-linejoin="round" stroke-linecap="round" />
<ellipse cx="7" cy="0" rx="1.6" ry="6.4" fill="#fff" stroke="#303030" stroke-width="0.5" transform="rotate(0 7 0)"/>
<line x1="10" y1="-6.4" x2="10" y2="6.4" stroke="#303030" stroke-width="0.4" stroke-linecap="round"/>
<path d="M18,-5.8 L88,-5.8 L88,5.8 L18,5.8Z" fill="#fff" stroke="#303030" stroke-width="0.7" stroke-linejoin="round" stroke-linecap="round" />
<line x1="18" y1="2.0" x2="88" y2="2.0" stroke="#999" stroke-width="0.35" stroke-linecap="round"/>
<path d="M45,-6.3 L50,-6.3 L50,6.3 L45,6.3Z" fill="#fff" stroke="#303030" stroke-width="0.5" stroke-linejoin="round" stroke-linecap="round" />
</g>
<g transform="translate(0,2.2)">
<path d="M451.5,89 L452.5,86 L455,86.5 L456.5,88.5 L458.5,88 L460,85.5 L462.5,86.5 L463.5,90 L462,94 L457,95 L452,93Z" fill="#fff" stroke="#303030" stroke-width="0.7" stroke-linejoin="round" stroke-linecap="round" />
<path d="M455,91 C457,92 460,91.5 461,90" fill="none" stroke="#303030" stroke-width="0.4" stroke-linejoin="round" stroke-linecap="round" />
<path d="M463.5,94 L465,91 L468,91.5 L469.5,93.5 L472,93 L474,91 L476,92 L475.5,96 L473,100 L467,100.5 L464,98Z" fill="#fff" stroke="#303030" stroke-width="0.7" stroke-linejoin="round" stroke-linecap="round" />
<path d="M467,96 C469,97 472,96.5 473.5,95" fill="none" stroke="#303030" stroke-width="0.4" stroke-linejoin="round" stroke-linecap="round" />
</g>
<path d="M484.5,121 L496,116.5 L505,122.5 L508.5,129.5 L505,136.5 L496,139.5 L488,135.5 Z" fill="#fff" stroke="#303030" stroke-width="0.8" stroke-linejoin="round" stroke-linecap="round" />
<path d="M488,124 C492,127 498,128 505,124.5 M489,130 C494,133 500,133 507,130" fill="none" stroke="#303030" stroke-width="0.45" stroke-linejoin="round" stroke-linecap="round" />
<path d="M482.8,134.5 C483,131.5 486,129.5 489,130 L493.5,133 C495,136 495,140 494,142.5 C491,144 486,143.8 483.5,141.5 Z" fill="#fff" stroke="#303030" stroke-width="0.8" stroke-linejoin="round" stroke-linecap="round" />
<ellipse cx="488.6" cy="137" rx="2.3" ry="2.6" fill="#fff" stroke="#303030" stroke-width="0.45" transform="rotate(0 488.6 137)"/>
<g transform="translate(505.5,131) rotate(38) scale(1)">
<path d="M0,-3.2 L9,-3.2 L9,3.2 L0,3.2Z" fill="#fff" stroke="#303030" stroke-width="0.7" stroke-linejoin="round" stroke-linecap="round" />
<ellipse cx="9" cy="0" rx="1.2" ry="3.2" fill="#fff" stroke="#303030" stroke-width="0.7" transform="rotate(0 9 0)"/>
</g>
<g transform="translate(482,118) rotate(-48) scale(1)">
<path d="M0,-7.8 L24,-7.8 L25,-9.2 L33,-9.2 L33,9.2 L25,9.2 L24,7.8 L0,7.8Z" fill="#fff" stroke="#303030" stroke-width="0.8" stroke-linejoin="round" stroke-linecap="round" />
<ellipse cx="0" cy="0" rx="2.2" ry="7.8" fill="none" stroke="#303030" stroke-width="0.5" transform="rotate(0 0 0)"/>
<ellipse cx="33" cy="0" rx="3.6" ry="9.3" fill="#fff" stroke="#303030" stroke-width="0.7" transform="rotate(0 33 0)"/>
<ellipse cx="33.3" cy="0.5" rx="2.0" ry="5.0" fill="#f0f0f0" stroke="#303030" stroke-width="0.5" transform="rotate(0 33.3 0.5)"/>
<path d="M7,-7.8 Q9.4,0 7,7.8" fill="none" stroke="#303030" stroke-width="0.45"/>
<path d="M12,-7.8 Q14.4,0 12,7.8" fill="none" stroke="#303030" stroke-width="0.45"/>
<path d="M18,-7.8 Q20.4,0 18,7.8" fill="none" stroke="#303030" stroke-width="0.45"/>
<path d="M25,-9.2 Q27.4,0 25,9.2" fill="none" stroke="#303030" stroke-width="0.45"/>
<path d="M29,-9.2 Q31.4,0 29,9.2" fill="none" stroke="#303030" stroke-width="0.45"/>
</g>
<g transform="translate(504,90.5) rotate(-43) scale(1)">
<path d="M0,-2.2 L15,-2.2 L15,2.2 L0,2.2Z" fill="#fff" stroke="#303030" stroke-width="0.7" stroke-linejoin="round" stroke-linecap="round" />
<ellipse cx="15" cy="0" rx="0.9" ry="2.2" fill="#fff" stroke="#303030" stroke-width="0.7" transform="rotate(0 15 0)"/>
<line x1="4" y1="-2.2" x2="4" y2="2.2" stroke="#303030" stroke-width="0.4" stroke-linecap="round"/>
</g>
<path d="M405.2,122.3 L405.4,112 C406,107.5 409.5,105.2 413,105.2 L416.5,105.4 C420.5,106.2 423.8,109.8 423.8,115 L423.8,120.5 L412,125.4 Z" fill="#fff" stroke="#303030" stroke-width="0.8" stroke-linejoin="round" stroke-linecap="round" />
<path d="M411.5,125.2 L411.5,115 C411.5,110 414,107.2 417.2,107 C421,107.3 423.8,110.8 423.8,115" fill="none" stroke="#303030" stroke-width="0.6" stroke-linejoin="round" stroke-linecap="round" />
<path d="M408,123.5 L408,113 C408.5,108.8 411,106.3 414.5,105.6" fill="none" stroke="#303030" stroke-width="0.45" stroke-linejoin="round" stroke-linecap="round" />
<path d="M409.7,124.4 L409.7,114 C410,109.5 412.5,106.8 415.5,106.2" fill="none" stroke="#303030" stroke-width="0.45" stroke-linejoin="round" stroke-linecap="round" />
<path d="M415,120.5 L416,113.5 C417,111.5 419.5,111.5 420.3,113.3 L418,120 Z" fill="#fff" stroke="#303030" stroke-width="0.5" stroke-linejoin="round" stroke-linecap="round" />
<g transform="translate(481.5,167.6) rotate(24.5) scale(1)">
<path d="M0.00,-2.18 L0.65,-3.24 L1.30,-3.98 L1.95,-4.56 L2.60,-5.03 L3.25,-5.41 L3.90,-6.09 L4.55,-6.01 L5.20,-6.23 L5.85,-6.42 L6.50,-6.91 L7.15,-6.67 L7.80,-6.75 L8.45,-6.79 L9.10,-7.15 L9.75,-6.79 L10.40,-6.78 L11.05,-6.75 L11.70,-7.07 L12.35,-6.68 L13.00,-6.62 L13.65,-6.56 L14.30,-6.83 L14.95,-6.40 L15.60,-6.30 L16.25,-6.20 L16.90,-6.43 L17.55,-5.94 L18.20,-5.80 L18.85,-5.64 L19.50,-5.81 L20.15,-5.26 L20.80,-5.05 L21.45,-4.81 L22.10,-4.89 L22.75,-4.24 L23.40,-3.91 L24.05,-3.53 L24.70,-3.07 L25.35,-2.52 L26.00,-1.76 L26.00,1.76 L25.35,2.52 L24.70,3.07 L24.05,3.53 L23.40,3.91 L22.75,4.24 L22.10,4.89 L21.45,4.81 L20.80,5.05 L20.15,5.26 L19.50,5.81 L18.85,5.64 L18.20,5.80 L17.55,5.94 L16.90,6.43 L16.25,6.20 L15.60,6.30 L14.95,6.40 L14.30,6.83 L13.65,6.56 L13.00,6.62 L12.35,6.68 L11.70,7.07 L11.05,6.75 L10.40,6.78 L9.75,6.79 L9.10,7.15 L8.45,6.79 L7.80,6.75 L7.15,6.67 L6.50,6.91 L5.85,6.42 L5.20,6.23 L4.55,6.01 L3.90,6.09 L3.25,5.41 L2.60,5.03 L1.95,4.56 L1.30,3.98 L0.65,3.24 L0.00,2.18Z" fill="#d2d2d2" stroke="#303030" stroke-width="1.0" stroke-linejoin="round" stroke-linecap="round" />
<path d="M3,-5.27 Q4.58,0 3,5.27" fill="none" stroke="#888" stroke-width="0.5"/>
<path d="M6,-6.45 Q7.94,0 6,6.45" fill="none" stroke="#888" stroke-width="0.5"/>
<path d="M9,-6.80 Q11.04,0 9,6.80" fill="none" stroke="#888" stroke-width="0.5"/>
<path d="M12,-6.70 Q14.01,0 12,6.70" fill="none" stroke="#888" stroke-width="0.5"/>
<path d="M15,-6.39 Q16.92,0 15,6.39" fill="none" stroke="#888" stroke-width="0.5"/>
<path d="M18,-5.84 Q19.75,0 18,5.84" fill="none" stroke="#888" stroke-width="0.5"/>
<path d="M21,-4.97 Q22.49,0 21,4.97" fill="none" stroke="#888" stroke-width="0.5"/>
<path d="M24,-3.56 Q25.07,0 24,3.56" fill="none" stroke="#888" stroke-width="0.5"/>
</g>
<g transform="translate(514.5,185.3) rotate(28) scale(1)">
<path d="M-4.5,0 L-2,-3.2 L3.5,-3.6 L5,-2.2 L5,2.2 L3.5,3.6 L-2,3.2 Z" fill="#fff" stroke="#303030" stroke-width="0.7" stroke-linejoin="round" stroke-linecap="round" />
<line x1="0" y1="-3.4" x2="0" y2="3.4" stroke="#303030" stroke-width="0.4" stroke-linecap="round"/>
<path d="M5,-2.0 L36,-1.6 L36,1.6 L5,2.0Z" fill="#fff" stroke="#303030" stroke-width="0.7" stroke-linejoin="round" stroke-linecap="round" />
<path d="M35,-2.0 L50,-2.0 L50,2.0 L35,2.0Z" fill="#fff" stroke="#303030" stroke-width="0.7" stroke-linejoin="round" stroke-linecap="round" />
<line x1="38" y1="-2.0" x2="38" y2="2.0" stroke="#303030" stroke-width="0.45" stroke-linecap="round"/>
</g>
<path d="M558.8,208.2 C558.8,204.8 564.6,204.8 564.6,208.2 L564.6,211 C564.6,213.6 558.8,213.6 558.8,211Z" fill="#fff" stroke="#303030" stroke-width="0.8" stroke-linejoin="round" stroke-linecap="round" />
<path d="M560.3,212.8 L560.3,216.4 L563,216.4 L563,212.8" fill="#fff" stroke="#303030" stroke-width="0.6" stroke-linejoin="round" stroke-linecap="round" />
<g transform="translate(568.5,192) rotate(25) scale(1)">
<path d="M0,-2.4 L12,-2.4 L12,2.4 L0,2.4Z" fill="#fff" stroke="#303030" stroke-width="0.7" stroke-linejoin="round" stroke-linecap="round" />
<ellipse cx="0" cy="0" rx="1" ry="2.4" fill="#fff" stroke="#303030" stroke-width="0.7" transform="rotate(0 0 0)"/>
</g>
<path d="M578.7,195.6 C578.7,192.4 584.4,192.4 584.4,195.6 L584.4,198 C584.4,200.6 578.7,200.6 578.7,198Z" fill="#fff" stroke="#303030" stroke-width="0.8" stroke-linejoin="round" stroke-linecap="round" />
<path d="M580.2,200 L580.2,203.6 L583,203.6 L583,200" fill="#fff" stroke="#303030" stroke-width="0.6" stroke-linejoin="round" stroke-linecap="round" />
<path d="M73,190 L48,202.5 L48,208.5 L54,206 L76,195Z" fill="#fff" stroke="#303030" stroke-width="0.7" stroke-linejoin="round" stroke-linecap="round" />
<path d="M48,202.5 L54,200 L54,206 L48,208.5Z" fill="#fff" stroke="#303030" stroke-width="0.5" stroke-linejoin="round" stroke-linecap="round" />
<path d="M82,197.5 L58.5,209.5 L58.5,215 L64,212.5 L86,202Z" fill="#fff" stroke="#303030" stroke-width="0.7" stroke-linejoin="round" stroke-linecap="round" />
<path d="M58.5,209.5 L64,207 L64,212.5 L58.5,215Z" fill="#fff" stroke="#303030" stroke-width="0.5" stroke-linejoin="round" stroke-linecap="round" />
<path d="M87,166.5 L91.5,167.2 L93,171.7 L97.5,174 L99.7,176.2 L104.2,178.5 L107.2,182.2 L111,186 L117,188.2 L124.5,190.5 L130.5,192 L133.5,194.2 L139.5,198 L147,202.5 L154.5,205.5 L164,207 L176,201 L181,198 L186,197 L194,197 L198,200 L201,206 L199,214 L196,220 L190,223 L176,222 L172,223 L174,228 L170,232 L166,233 L162,236 L157,238 L154,242 L152,246 L147,249 L142,251 L136,248 L133.5,240 L131.5,233.5 L120,228 L110,224 L103,220.5 L92.5,213 L84.4,206.5 L79,199.5 L75,190.5 L78,180 L82.5,171Z" fill="#fff" stroke="#303030" stroke-width="0.8" stroke-linejoin="round" stroke-linecap="round" />
<path d="M78,180 L90,184.5 L105,190.5 L124.5,197 L142.5,202.5 L154.5,207 L165,212 L176,212" fill="none" stroke="#303030" stroke-width="0.55" stroke-linejoin="round" stroke-linecap="round" />
<path d="M79.5,184 L100,193.5 L127.5,204 L145,210.5" fill="none" stroke="#303030" stroke-width="0.45" stroke-linejoin="round" stroke-linecap="round" />
<path d="M82.5,196.5 L105,205.5 L120,211 L132,217 L145,224 L160,227" fill="none" stroke="#303030" stroke-width="0.5" stroke-linejoin="round" stroke-linecap="round" />
<path d="M76,193 L85,199 L100,207 L112,213" fill="none" stroke="#303030" stroke-width="0.4" stroke-linejoin="round" stroke-linecap="round" />
<path d="M84,174 L97,182 L112,188" fill="none" stroke="#303030" stroke-width="0.4" stroke-linejoin="round" stroke-linecap="round" />
<path d="M94,172 L101,178.5 L106,181" fill="none" stroke="#303030" stroke-width="0.4" stroke-linejoin="round" stroke-linecap="round" />
<path d="M140,199 L150,206 L152,212" fill="none" stroke="#303030" stroke-width="0.4" stroke-linejoin="round" stroke-linecap="round" />
<ellipse cx="121" cy="211.8" rx="8.2" ry="4.6" fill="#fff" stroke="#303030" stroke-width="0.6" transform="rotate(28 121 211.8)"/>
<ellipse cx="121.8" cy="212.3" rx="5.6" ry="2.8" fill="#f0f0f0" stroke="#303030" stroke-width="0.45" transform="rotate(28 121.8 212.3)"/>
<path d="M180,199 C184,195 196,195 199,200 C201,205 198,210 192,211 C186,211 181,208 180,203Z" fill="#fff" stroke="#303030" stroke-width="0.6" stroke-linejoin="round" stroke-linecap="round" />
<ellipse cx="190" cy="203" rx="6" ry="3.6" fill="#fff" stroke="#303030" stroke-width="0.5" transform="rotate(0 190 203)"/>
<ellipse cx="190" cy="203.5" rx="3.8" ry="2.1" fill="#f2f2f2" stroke="#303030" stroke-width="0.4" transform="rotate(0 190 203.5)"/>
<path d="M176,210 L186,214 L197,213" fill="none" stroke="#303030" stroke-width="0.5" stroke-linejoin="round" stroke-linecap="round" />
<path d="M170,216 L176,217 L190,218 L196,216" fill="none" stroke="#303030" stroke-width="0.45" stroke-linejoin="round" stroke-linecap="round" />
<ellipse cx="191" cy="216" rx="1.5" ry="1.2" fill="none" stroke="#303030" stroke-width="0.5" transform="rotate(0 191 216)"/>
<path d="M136,232 L146,236 L155,238" fill="none" stroke="#303030" stroke-width="0.5" stroke-linejoin="round" stroke-linecap="round" />
<path d="M138,240 L140,247 L146,246" fill="none" stroke="#303030" stroke-width="0.5" stroke-linejoin="round" stroke-linecap="round" />
<path d="M150,224 L160,228 L170,226" fill="none" stroke="#303030" stroke-width="0.5" stroke-linejoin="round" stroke-linecap="round" />
<path d="M158,229 L160,236" fill="none" stroke="#303030" stroke-width="0.45" stroke-linejoin="round" stroke-linecap="round" />
<ellipse cx="143" cy="238" rx="1.2" ry="1" fill="none" stroke="#303030" stroke-width="0.5" transform="rotate(0 143 238)"/>
<path d="M130,209.5 L150,214 L172,216" fill="none" stroke="#303030" stroke-width="0.4" stroke-linejoin="round" stroke-linecap="round" />
<path d="M138,222.5 L155,220 L169,218.5" fill="none" stroke="#303030" stroke-width="0.4" stroke-linejoin="round" stroke-linecap="round" />
<path d="M165,217.6 L165.5,232" fill="none" stroke="#303030" stroke-width="0.4" stroke-linejoin="round" stroke-linecap="round" />
<path d="M135,234 L145,231 L154.4,229" fill="none" stroke="#303030" stroke-width="0.4" stroke-linejoin="round" stroke-linecap="round" />
<path d="M137,243 L141,247.5" fill="none" stroke="#303030" stroke-width="0.4" stroke-linejoin="round" stroke-linecap="round" />
<path d="M182,214 C185,212.5 193,212.5 196.5,215 C197,218 194,220.5 188,220.5 C184,220 182,217 182,214Z" fill="none" stroke="#303030" stroke-width="0.45" stroke-linejoin="round" stroke-linecap="round" />
<ellipse cx="168" cy="230" rx="1.2" ry="1" fill="none" stroke="#303030" stroke-width="0.5" transform="rotate(0 168 230)"/>
<path d="M181.5,181.5 C182,179.5 196,179.5 196.5,181.5 L196.8,185 C195.5,189 182.5,189 181.2,185 Z" fill="#fff" stroke="#303030" stroke-width="0.8" stroke-linejoin="round" stroke-linecap="round" />
<path d="M182.5,186 C185,188.5 193,188.5 195.5,186" fill="none" stroke="#777" stroke-width="0.9" stroke-linejoin="round" stroke-linecap="round" />
<path d="M180.6,174 C180.6,171.2 196.8,171.2 196.8,174 L197,178.2 C196.5,181 181,181 180.6,178.2 Z" fill="#fff" stroke="#303030" stroke-width="0.8" stroke-linejoin="round" stroke-linecap="round" />
<path d="M181.5,173.8 C184,175.5 194,175.5 196,173.8" fill="none" stroke="#303030" stroke-width="0.45" stroke-linejoin="round" stroke-linecap="round" />
<ellipse cx="188.5" cy="175.6" rx="3.0" ry="1.4" fill="#fff" stroke="#303030" stroke-width="0.6" transform="rotate(0 188.5 175.6)"/>
<path d="M287,216 L295,218 L298,226 L297.8,235.5 L287.5,235.5 L286.5,230 L288.5,225 Z" fill="#fff" stroke="#303030" stroke-width="0.7" stroke-linejoin="round" stroke-linecap="round" />
<path d="M288,229 L297,230 M289,233 L297,233.5" fill="none" stroke="#303030" stroke-width="0.45" stroke-linejoin="round" stroke-linecap="round" />
<path d="M286,205 C283,206 283.5,216 286,218 L292,219 L293,205 Z" fill="#fff" stroke="#303030" stroke-width="0.7" stroke-linejoin="round" stroke-linecap="round" />
<ellipse cx="292" cy="212" rx="2.5" ry="6.8" fill="#fff" stroke="#303030" stroke-width="0.5" transform="rotate(0 292 212)"/>
<path d="M307,201 C309,197 314,196 316,199 C317.5,202 315,205 311,206 Z" fill="#fff" stroke="#303030" stroke-width="0.7" stroke-linejoin="round" stroke-linecap="round" />
<ellipse cx="313" cy="200.5" rx="1.6" ry="1.3" fill="none" stroke="#303030" stroke-width="0.4" transform="rotate(0 313 200.5)"/>
<path d="M278.5,187 C281,191 285,195 289,200 C291,203 292,206 292.5,210 L300,221 C305,222 311,220 313,214 C314,209 311,204 307,202 C305,196 302,191 297,187.5 C295,186 293,185 291,184.5 Z" fill="#fff" stroke="#303030" stroke-width="0.8" stroke-linejoin="round" stroke-linecap="round" />
<path d="M283,190 C289,193 295,198 299,205" fill="none" stroke="#303030" stroke-width="0.45" stroke-linejoin="round" stroke-linecap="round" />
<path d="M287,196 C291,199 294,203 296,208" fill="none" stroke="#303030" stroke-width="0.45" stroke-linejoin="round" stroke-linecap="round" />
<path d="M281,189 C285,193 289,198 291.5,204" fill="none" stroke="#303030" stroke-width="0.45" stroke-linejoin="round" stroke-linecap="round" />
<path d="M300.5,206 C298,210 298.5,217 302,220.5" fill="none" stroke="#303030" stroke-width="0.45" stroke-linejoin="round" stroke-linecap="round" />
<path d="M296,219.5 C299,221.5 302,222 305,221.3" fill="none" stroke="#303030" stroke-width="0.45" stroke-linejoin="round" stroke-linecap="round" />
<path d="M290,222 L289,232" fill="none" stroke="#303030" stroke-width="0.4" stroke-linejoin="round" stroke-linecap="round" />
<ellipse cx="307" cy="212.5" rx="5.4" ry="7.6" fill="#fff" stroke="#303030" stroke-width="0.7" transform="rotate(0 307 212.5)"/>
<ellipse cx="307.8" cy="212.8" rx="3.4" ry="5.0" fill="#f0f0f0" stroke="#303030" stroke-width="0.5" transform="rotate(0 307.8 212.8)"/>
<path d="M278.5,185.5 C278.5,181.5 290.5,180.5 291,184 L291,188.5 C289,190.5 281,191 279,189 Z" fill="#fff" stroke="#303030" stroke-width="0.7" stroke-linejoin="round" stroke-linecap="round" />
<ellipse cx="285.2" cy="182.6" rx="4.3" ry="2.3" fill="#fff" stroke="#303030" stroke-width="0.7" transform="rotate(0 285.2 182.6)"/>
<ellipse cx="285.2" cy="182.6" rx="2.3" ry="1.1" fill="#eee" stroke="#303030" stroke-width="0.4" transform="rotate(0 285.2 182.6)"/>
<path d="M330,225.8 C331,224 332,223 333.1,222.6 C334.5,222 336,221.8 337.5,222 C340,222.6 342,223.8 343.1,225.1 C344,226.5 344.6,228 344.4,229.5 C344.2,232 343.6,234 342.5,235.8 C341,237 339.5,237.5 337.5,237.3 C335,237 333,236 331.3,234.5 C330.2,233 329.8,231 330,229.5 Z" fill="#fff" stroke="#303030" stroke-width="0.8" stroke-linejoin="round" stroke-linecap="round" />
<ellipse cx="340.4" cy="231.3" rx="3.8" ry="5.7" fill="#fff" stroke="#303030" stroke-width="0.55" transform="rotate(-20 340.4 231.3)"/>
<ellipse cx="339.9" cy="231" rx="2.1" ry="3.3" fill="#efefef" stroke="#303030" stroke-width="0.5" transform="rotate(-20 339.9 231)"/>
<path d="M333,224 C331.5,227 331.5,232 333.5,235" fill="none" stroke="#303030" stroke-width="0.4" stroke-linejoin="round" stroke-linecap="round" />
<path d="M357,236 L365,235.2 L366,247 L357.5,247 C355,246 354.8,237.5 357,236Z" fill="#fff" stroke="#303030" stroke-width="0.75" stroke-linejoin="round" stroke-linecap="round" />
<ellipse cx="357.2" cy="241.5" rx="2.0" ry="5.5" fill="#fff" stroke="#303030" stroke-width="0.6" transform="rotate(0 357.2 241.5)"/>
<ellipse cx="357.3" cy="241.5" rx="1.0" ry="2.8" fill="#eee" stroke="#303030" stroke-width="0.4" transform="rotate(0 357.3 241.5)"/>
<ellipse cx="368.6" cy="247" rx="7.7" ry="12.4" fill="#fff" stroke="#303030" stroke-width="0.7" transform="rotate(5 368.6 247)"/>
<ellipse cx="371" cy="246.5" rx="7.7" ry="12.4" fill="#fff" stroke="#303030" stroke-width="0.8" transform="rotate(5 371 246.5)"/>
<ellipse cx="371.3" cy="247.3" rx="4.8" ry="6.8" fill="#fff" stroke="#303030" stroke-width="0.6" transform="rotate(5 371.3 247.3)"/>
<ellipse cx="371.8" cy="247.5" rx="3.2" ry="5.0" fill="#e6e6e6" stroke="#303030" stroke-width="0.55" transform="rotate(5 371.8 247.5)"/>
<ellipse cx="372.2" cy="247.6" rx="1.6" ry="2.8" fill="#fff" stroke="#303030" stroke-width="0.45" transform="rotate(5 372.2 247.6)"/>
<path d="M450,197 C450,194 456,194 456.5,197 L455.5,203 L452,204 L450.5,201Z" fill="#fff" stroke="#303030" stroke-width="0.7" stroke-linejoin="round" stroke-linecap="round" />
<path d="M452.5,204 C453,208 452,212 448,214 C444,216 440,217 438,221 C436,225 436.5,229 437,234" fill="none" stroke="#303030" stroke-width="1.3" stroke-linejoin="round" stroke-linecap="round" />
<path d="M452.5,204 C453,208 452,212 448,214 C444,216 440,217 438,221 C436,225 436.5,229 437,234" fill="none" stroke="#fff" stroke-width="0.5" stroke-linejoin="round" stroke-linecap="round" />
<path d="M434,235 L442,234 L443,242 L441,245 L435,245 L434,241Z" fill="#fff" stroke="#303030" stroke-width="0.7" stroke-linejoin="round" stroke-linecap="round" />
<line x1="436" y1="238" x2="441" y2="238" stroke="#303030" stroke-width="0.4" stroke-linecap="round"/>
<path d="M438,250 L443,249 L445,254 L451,255 L452,259 L447,261 L442,259 L439,256Z" fill="#fff" stroke="#303030" stroke-width="0.7" stroke-linejoin="round" stroke-linecap="round" />
<ellipse cx="441" cy="252" rx="1" ry="1" fill="none" stroke="#303030" stroke-width="0.4" transform="rotate(0 441 252)"/>
<path d="M408.7,248.3 C412,249 415,253 417,258 C419,264 418,271 415,276 C412,281 407,285 401,286.5 C397,287 393.5,287 390.6,284.5 L392,282 L393,279.5 L396,275.5 L400,274 L403.8,272 L406.3,268.9 L407,265 L405,262 L405,258.2 L407,254 Z" fill="#fff" stroke="#303030" stroke-width="0.8" stroke-linejoin="round" stroke-linecap="round" />
<path d="M411,254 C414,259 415,266 413,272 C411,277 406,281 399,283" fill="none" stroke="#303030" stroke-width="0.45" stroke-linejoin="round" stroke-linecap="round" />
<path d="M407,268 C409,270 411,272 413,272" fill="none" stroke="#303030" stroke-width="0.4" stroke-linejoin="round" stroke-linecap="round" />
<path d="M398,276 L400,280 M404,274 L407,278" fill="none" stroke="#303030" stroke-width="0.4" stroke-linejoin="round" stroke-linecap="round" />
<ellipse cx="390.8" cy="285" rx="0.9" ry="0.9" fill="#555" stroke="#303030" stroke-width="0.3" transform="rotate(0 390.8 285)"/>
<ellipse cx="454" cy="296.5" rx="16" ry="20.5" fill="#fff" stroke="#303030" stroke-width="0.9" transform="rotate(15 454 296.5)"/>
<path d="M440.5,288 C438.5,298 440.5,310 446.5,316.5" fill="none" stroke="#303030" stroke-width="0.5" stroke-linejoin="round" stroke-linecap="round" />
<path d="M442,286 C440.5,296 442,308 447.5,314.5" fill="none" stroke="#303030" stroke-width="0.35" stroke-linejoin="round" stroke-linecap="round" />
<ellipse cx="458.2" cy="297.6" rx="9.6" ry="12.2" fill="#fff" stroke="#303030" stroke-width="0.6" transform="rotate(15 458.2 297.6)"/>
<path d="M450,290 C448.5,297 450,305 455,309" fill="none" stroke="#303030" stroke-width="0.45" stroke-linejoin="round" stroke-linecap="round" />
<ellipse cx="460.2" cy="298" rx="6.3" ry="8.2" fill="#fff" stroke="#303030" stroke-width="0.6" transform="rotate(15 460.2 298)"/>
<ellipse cx="461" cy="298.2" rx="2.5" ry="3.3" fill="#eee" stroke="#303030" stroke-width="0.5" transform="rotate(15 461 298.2)"/>
<ellipse cx="465.153481053043" cy="299.6493866525741" rx="0.9" ry="1.1" fill="none" stroke="#303030" stroke-width="0.45" transform="rotate(0 465.153481053043 299.6493866525741)"/>
<ellipse cx="461.2250446118447" cy="303.7923253946256" rx="0.9" ry="1.1" fill="none" stroke="#303030" stroke-width="0.45" transform="rotate(0 461.2250446118447 303.7923253946256)"/>
<ellipse cx="456.98560416606205" cy="300.20686051745366" rx="0.9" ry="1.1" fill="none" stroke="#303030" stroke-width="0.45" transform="rotate(0 456.98560416606205 300.20686051745366)"/>
<ellipse cx="458.29392231848567" cy="293.847982615841" rx="0.9" ry="1.1" fill="none" stroke="#303030" stroke-width="0.45" transform="rotate(0 458.29392231848567 293.847982615841)"/>
<ellipse cx="463.3419478505646" cy="293.5034448195056" rx="0.9" ry="1.1" fill="none" stroke="#303030" stroke-width="0.45" transform="rotate(0 463.3419478505646 293.5034448195056)"/>
<path d="M483.6,316 L484.2,312 L486.8,310 L490.8,309.7 L493.5,311.8 L494,316.5 L492.5,320.5 L488.2,321.6 L485,320.2 Z" fill="#ececec" stroke="#303030" stroke-width="0.85" stroke-linejoin="round" stroke-linecap="round" />
<path d="M484.2,312 L488.3,314.2 L493.5,311.8 M488.3,314.2 L488.6,321.5" fill="none" stroke="#303030" stroke-width="0.5" stroke-linejoin="round" stroke-linecap="round" />
<path d="M486.8,310 C488,311.5 490,311.8 491.5,311" fill="none" stroke="#303030" stroke-width="0.45" stroke-linejoin="round" stroke-linecap="round" />
<path d="M239.4,253 C239.5,249.5 241.5,246.5 244.5,245.6 C248,245 252.5,245.5 254.5,248 C255.8,250 255.8,253 255.4,255 C253,258 249.5,260 247,262.5 C243.5,266 241,269 240.3,272 C239.3,276 239,280 239.4,283 C240,287 241,290 243,292.5 C247,296 253,299 257.2,301.5 L259.6,303.4 L259.6,306 L255,307.2 L251,307 L249.2,311.5 L244.7,312.2 L233,307 L225,302 L215,295.3 L206,289 L193.4,281.3 C191.5,280 191.2,277 191.8,275 C192.5,273.2 195,272.8 197,273.2 L202,276.6 L216,280.3 C216,277.5 216.5,275.5 217,273.8 C218,270.5 219,268.5 220.6,266.3 C223,263 225.5,260.5 228,258.8 C232,256 236,254.5 239.4,253 Z" fill="#fff" stroke="#303030" stroke-width="0.8" stroke-linejoin="round" stroke-linecap="round" />
<ellipse cx="246.5" cy="251.6" rx="5.2" ry="3.3" fill="#fff" stroke="#303030" stroke-width="0.6" transform="rotate(-5 246.5 251.6)"/>
<path d="M242,258 C236,261 229,264 225,269 C222.5,273 222,277 222.3,281" fill="none" stroke="#303030" stroke-width="0.45" stroke-linejoin="round" stroke-linecap="round" />
<path d="M196,279 L206,285.5 L215,291.5 L233,302.5 L245,308 L251,307" fill="none" stroke="#303030" stroke-width="0.45" stroke-linejoin="round" stroke-linecap="round" />
<path d="M252.5,257.5 C249.5,260.5 246.5,263 244.3,265.8 C241.8,269 238.8,273 238,277 C237.5,281 237.7,285 238.6,288 C240,292 243,295 247,297.5 L256.5,303" fill="none" stroke="#303030" stroke-width="0.45" stroke-linejoin="round" stroke-linecap="round" />
<path d="M199,275.5 L204,278.5 L216.5,282" fill="none" stroke="#303030" stroke-width="0.4" stroke-linejoin="round" stroke-linecap="round" />
<path d="M221.3,298.5 L221.5,302.5 L226.7,304.5 L226.5,301" fill="none" stroke="#303030" stroke-width="0.5" stroke-linejoin="round" stroke-linecap="round" />
<path d="M244.7,312.2 L245,308" fill="none" stroke="#303030" stroke-width="0.45" stroke-linejoin="round" stroke-linecap="round" />
<ellipse cx="225.8" cy="285.9" rx="5.2" ry="3.7" fill="#fff" stroke="#303030" stroke-width="0.6" transform="rotate(10 225.8 285.9)"/>
<ellipse cx="225.3" cy="273.8" rx="2.7" ry="1.8" fill="none" stroke="#303030" stroke-width="0.45" transform="rotate(0 225.3 273.8)"/>
<ellipse cx="238.4" cy="257.8" rx="2.8" ry="1.8" fill="none" stroke="#303030" stroke-width="0.45" transform="rotate(0 238.4 257.8)"/>
<ellipse cx="235.1" cy="295.2" rx="2.3" ry="1.8" fill="none" stroke="#303030" stroke-width="0.45" transform="rotate(0 235.1 295.2)"/>
<ellipse cx="243.6" cy="301.5" rx="2.3" ry="1.5" fill="none" stroke="#303030" stroke-width="0.45" transform="rotate(0 243.6 301.5)"/>
<path d="M240,228 C240,224 255,224 255,228 L255,234 C255,239 240,239 240,234Z" fill="#fff" stroke="#303030" stroke-width="0.7" stroke-linejoin="round" stroke-linecap="round" />
<ellipse cx="247.5" cy="228" rx="7.5" ry="3.2" fill="#fff" stroke="#303030" stroke-width="0.7" transform="rotate(0 247.5 228)"/>
<ellipse cx="247.5" cy="228" rx="4" ry="1.6" fill="#ddd" stroke="#303030" stroke-width="0.4" transform="rotate(0 247.5 228)"/>
<g transform="translate(164.8,293.6) rotate(-33) scale(1)">
<path d="M0,-3.0 L10.5,-3.0 C13,-3.0 13.5,3.0 10.5,3.0 L0,3.0Z" fill="#fff" stroke="#303030" stroke-width="0.8" stroke-linejoin="round" stroke-linecap="round" />
<ellipse cx="0" cy="0" rx="1.3" ry="3.0" fill="#fff" stroke="#303030" stroke-width="0.7" transform="rotate(0 0 0)"/>
<line x1="3" y1="-3" x2="3" y2="3" stroke="#888" stroke-width="0.35" stroke-linecap="round"/>
</g>
<path d="M267.2,328 L267.2,321.3 L269.4,321 L271.5,324.5 L274,328Z" fill="#fff" stroke="#303030" stroke-width="0.7" stroke-linejoin="round" stroke-linecap="round" />
<path d="M263.5,331 C263.8,328.5 266,327.3 269,327 L273.5,326.8 C276,327.5 277.2,329.5 277,333 C276.8,335.5 275,337 272,337.2 L266.5,337 C264.5,336.5 263.4,334.5 263.5,331Z" fill="#fff" stroke="#303030" stroke-width="0.8" stroke-linejoin="round" stroke-linecap="round" />
<path d="M264,331 C267,333 272,333 276.8,330" fill="none" stroke="#303030" stroke-width="0.45" stroke-linejoin="round" stroke-linecap="round" />
<path d="M265,334.5 C268,336 273,335.8 276,334" fill="none" stroke="#303030" stroke-width="0.45" stroke-linejoin="round" stroke-linecap="round" />
<path d="M268.3,327.5 L270,324" fill="none" stroke="#303030" stroke-width="0.4" stroke-linejoin="round" stroke-linecap="round" />
<g transform="translate(156,335) rotate(-35) scale(1)">
<path d="M0,-4.6 L6.5,-4.6 L6.5,4.6 L0,4.6Z" fill="#fff" stroke="#303030" stroke-width="0.7" stroke-linejoin="round" stroke-linecap="round" />
<path d="M0,-4.6 C-2,-4.6 -2,4.6 0,4.6" fill="#fff" stroke="#303030" stroke-width="0.7" stroke-linejoin="round" stroke-linecap="round" />
<ellipse cx="6.5" cy="0" rx="2.2" ry="4.6" fill="#fff" stroke="#303030" stroke-width="0.7" transform="rotate(0 6.5 0)"/>
<ellipse cx="6.6" cy="0" rx="1.0" ry="2.0" fill="#ddd" stroke="#303030" stroke-width="0.4" transform="rotate(0 6.6 0)"/>
</g>
<g transform="translate(111.2,345.2) rotate(-20) scale(1)">
<path d="M0,-4.3 L6,-4.3 L6,4.3 L0,4.3Z" fill="#fff" stroke="#303030" stroke-width="0.7" stroke-linejoin="round" stroke-linecap="round" />
<path d="M0,-4.3 C-2,-4.3 -2,4.3 0,4.3" fill="#fff" stroke="#303030" stroke-width="0.7" stroke-linejoin="round" stroke-linecap="round" />
<ellipse cx="6" cy="0" rx="2.0" ry="4.3" fill="#fff" stroke="#303030" stroke-width="0.7" transform="rotate(0 6 0)"/>
<ellipse cx="6.1" cy="0" rx="0.9" ry="1.8" fill="#ddd" stroke="#303030" stroke-width="0.4" transform="rotate(0 6.1 0)"/>
</g>
<path d="M80.5,263.5 L123,285" fill="none" stroke="#303030" stroke-width="4.2" stroke-linejoin="round" stroke-linecap="round"/>
<path d="M80.5,263.5 L123,285" fill="none" stroke="#fff" stroke-width="3.0" stroke-linejoin="round" stroke-linecap="round"/>
<path d="M119.5,286 C116.5,289.5 114.8,295 114,300 L113.8,307.8 C114.5,309.2 117,309.2 117.6,307.6 L118,299.5 C118.5,296 120.5,292.5 124,290.2 C126.5,290.5 128,288.5 127.6,286.5 C127.2,284.6 125.4,284 123.8,284.4 Z" fill="#fff" stroke="#303030" stroke-width="0.75" stroke-linejoin="round" stroke-linecap="round" />
<path d="M115.8,300 L115.6,307.5" fill="none" stroke="#999" stroke-width="0.4" stroke-linejoin="round" stroke-linecap="round" />
<path d="M14.5,322.5 L50.5,342.5 L53.5,345.5 L55,354 L53.5,357.5 L47,358" fill="none" stroke="#303030" stroke-width="3.5999999999999996" stroke-linejoin="round" stroke-linecap="round"/>
<path d="M14.5,322.5 L50.5,342.5 L53.5,345.5 L55,354 L53.5,357.5 L47,358" fill="none" stroke="#fff" stroke-width="2.4" stroke-linejoin="round" stroke-linecap="round"/>
<ellipse cx="45" cy="356" rx="3.0" ry="2.6" fill="#fff" stroke="#303030" stroke-width="0.6" transform="rotate(0 45 356)"/>
<ellipse cx="45" cy="356" rx="1.3" ry="1.1" fill="none" stroke="#303030" stroke-width="0.4" transform="rotate(0 45 356)"/>
<path d="M78.2,290.5 L85.3,286.1 L91.5,289.6 L92.8,297.5 L88.8,300.2 L83.6,300.6 L78.3,296.7 Z" fill="#fff" stroke="#303030" stroke-width="0.8" stroke-linejoin="round" stroke-linecap="round" />
<path d="M83.2,293 C84,291 88,290.8 89.3,293.5 C90,296.5 88,298.5 85.5,298.4 C83.5,298.2 82.8,295 83.2,293 Z" fill="#fff" stroke="#303030" stroke-width="0.55" stroke-linejoin="round" stroke-linecap="round" />
<path d="M78.2,290.5 L82,292.5 M85.3,286.1 L85.8,290.8 M78.3,296.7 L83.3,296" fill="none" stroke="#303030" stroke-width="0.4" stroke-linejoin="round" stroke-linecap="round" />
<path d="M57,302 C56.5,298.5 59,296.5 61,297 L63,298.5 C64,296 67,294.5 69.5,296 L70,299.5 L66.5,300 C64,300.5 63,302.5 64,305 L68.5,307 L69.5,311.5 L66,310 C62,310 57.5,306.5 57,302Z" fill="#fff" stroke="#303030" stroke-width="0.7" stroke-linejoin="round" stroke-linecap="round" />
<path d="M59,302 C59.5,305 62,307.5 66,308.5" fill="none" stroke="#303030" stroke-width="0.4" stroke-linejoin="round" stroke-linecap="round" />
<path d="M129.5,317 C129.5,312.5 138.5,312.5 138.5,317 C138.5,320 136,321 135.5,323 L135.5,329.5 C136,331 138.5,332 138.5,334.5 C138.5,338.5 129.5,338.5 129.5,334.5 C129.5,332 132,331 132.5,329.5 L132.5,323 C132,321 129.5,320 129.5,317Z" fill="#fff" stroke="#303030" stroke-width="0.7" stroke-linejoin="round" stroke-linecap="round" />
<ellipse cx="134" cy="316.8" rx="2.2" ry="1.7" fill="#fff" stroke="#303030" stroke-width="0.45" transform="rotate(0 134 316.8)"/>
<ellipse cx="134" cy="334.6" rx="2.2" ry="1.7" fill="#fff" stroke="#303030" stroke-width="0.45" transform="rotate(0 134 334.6)"/>
<path d="M79.5,329 L73,368.5" fill="none" stroke="#303030" stroke-width="2.6" stroke-linejoin="round" stroke-linecap="round"/>
<path d="M79.5,329 L73,368.5" fill="none" stroke="#fff" stroke-width="1.6" stroke-linejoin="round" stroke-linecap="round"/>
<ellipse cx="79.5" cy="326.8" rx="3.3" ry="2.8" fill="#fff" stroke="#303030" stroke-width="0.6" transform="rotate(0 79.5 326.8)"/>
<path d="M82,325.5 L85.5,323.5" fill="none" stroke="#303030" stroke-width="0.7" stroke-linejoin="round" stroke-linecap="round" />
<path d="M66.8,369.5 L71,367 L76,368.5 L76,374 L72.5,376.5 L69,374.5 L69.5,371.5Z" fill="#fff" stroke="#303030" stroke-width="0.6" stroke-linejoin="round" stroke-linecap="round" />
<ellipse cx="72.8" cy="371" rx="2.5" ry="2.1" fill="#fff" stroke="#303030" stroke-width="0.45" transform="rotate(0 72.8 371)"/>
<path d="M360.2,276.7 L362.9,276.7 L362.9,279.5 L360.2,279.5Z" fill="#fff" stroke="#303030" stroke-width="0.6" stroke-linejoin="round" stroke-linecap="round" />
<path d="M359.5,279.5 L363.6,279.5 L363.6,285.8 L359.5,285.8Z" fill="#fff" stroke="#303030" stroke-width="0.7" stroke-linejoin="round" stroke-linecap="round" />
<ellipse cx="361.5" cy="282.8" rx="1.2" ry="1.3" fill="none" stroke="#303030" stroke-width="0.45" transform="rotate(0 361.5 282.8)"/>
<path d="M361.5,286 C361.3,290 361.5,293 363.5,295 C365.5,296.5 368,295.5 369.3,293 C370,291 370.2,288.8 371.8,288.4 C373.2,288.2 373.6,290 373.7,292.5 L374.3,306" fill="none" stroke="#303030" stroke-width="1.9" stroke-linejoin="round" stroke-linecap="round" />
<path d="M361.5,286 C361.3,290 361.5,293 363.5,295 C365.5,296.5 368,295.5 369.3,293 C370,291 370.2,288.8 371.8,288.4 C373.2,288.2 373.6,290 373.7,292.5 L374.3,306" fill="none" stroke="#fff" stroke-width="0.7" stroke-linejoin="round" stroke-linecap="round" />
<path d="M371,306.3 C371,305 376,305 376,306.3 L376,309 C376,310.5 371,310.5 371,309Z" fill="#fff" stroke="#303030" stroke-width="0.7" stroke-linejoin="round" stroke-linecap="round" />
<ellipse cx="373.5" cy="308" rx="1.2" ry="1" fill="none" stroke="#303030" stroke-width="0.4" transform="rotate(0 373.5 308)"/>
<path d="M355,341 C354.5,336 356,333 358.8,331.2 L363.8,328.8 L364.4,326.5 C366,325.5 369.5,325.5 370.6,327 L371,331 L372.5,333.8 L378.8,335 L382.5,338.8 L381,342.5 L377,345 L380,347.5 L382.5,350 L381,353.8 L375,356 L368.8,356 L361,352.5 L356.9,347.5 Z" fill="#fff" stroke="#303030" stroke-width="0.8" stroke-linejoin="round" stroke-linecap="round" />
<ellipse cx="367.5" cy="326.6" rx="3" ry="1.2" fill="#fff" stroke="#303030" stroke-width="0.5" transform="rotate(0 367.5 326.6)"/>
<path d="M358,336 C361,333 367,333 370,336 C373,340 372,346 368,349" fill="none" stroke="#303030" stroke-width="0.5" stroke-linejoin="round" stroke-linecap="round" />
<path d="M357,344 C361,348 366,350 372,349" fill="none" stroke="#303030" stroke-width="0.45" stroke-linejoin="round" stroke-linecap="round" />
<path d="M372.5,334 L373,346 L377,345 M373,346 L375,355" fill="none" stroke="#303030" stroke-width="0.45" stroke-linejoin="round" stroke-linecap="round" />
<path d="M361,338 C363,341 364,345 363,349" fill="none" stroke="#303030" stroke-width="0.4" stroke-linejoin="round" stroke-linecap="round" />
<path d="M396.5,331 L398,324 L400,322 L400.5,317 L403,316 L404,318.5 L408,319 L410,318 L412,322 L413,329 L411,335 L408.5,339 L406,338 L404,341 L401,338 L399,334Z" fill="#fff" stroke="#303030" stroke-width="0.7" stroke-linejoin="round" stroke-linecap="round" />
<path d="M404,326 L406,321 L409,320.5 L411,322 L414.5,323 L415.5,327 L414.5,333 L413,336 L410.5,340 L408,340.5 L406,337 L404,333Z" fill="#fff" stroke="#303030" stroke-width="0.7" stroke-linejoin="round" stroke-linecap="round" />
<path d="M406,323 L408,331 L407,337" fill="none" stroke="#303030" stroke-width="0.45" stroke-linejoin="round" stroke-linecap="round" />
<path d="M401,325 L403,331 L402,336" fill="none" stroke="#303030" stroke-width="0.45" stroke-linejoin="round" stroke-linecap="round" />
<path d="M402.8,361.5 C403.5,363 403.4,364 403.3,365 L402.9,376.5 L401.6,383.4" fill="none" stroke="#303030" stroke-width="0.8" stroke-linejoin="round" stroke-linecap="round" />
<path d="M403.3,364.5 L408.6,361.6 M403,376.8 L408.2,374.6" fill="none" stroke="#303030" stroke-width="0.7" stroke-linejoin="round" stroke-linecap="round" />
<ellipse cx="402.7" cy="359.4" rx="1.3" ry="2.1" fill="#fff" stroke="#303030" stroke-width="0.6" transform="rotate(0 402.7 359.4)"/>
<ellipse cx="401.4" cy="384.4" rx="1.1" ry="1.1" fill="#fff" stroke="#303030" stroke-width="0.6" transform="rotate(0 401.4 384.4)"/>
<path d="M446.7,339.5 L451.1,337.6 L453,339.5 L456.8,341.4 L461.1,343.3 L463,344.5 L465.5,346.5 L464.9,349.5 L461.8,352 L458.6,354.5 L458,365.8 L461.8,369.5 L463.6,372 L463,375 L459.9,377 L453,375.8 L446.1,371.4 L445.5,368.3 L447.4,363.3 L450.5,357 L451.1,352 L447.4,347 L446.1,342 Z" fill="#fff" stroke="#303030" stroke-width="0.8" stroke-linejoin="round" stroke-linecap="round" />
<path d="M453,339.5 L452.5,344 L455.5,346 L455,352 L454,364 L452,369 L446.5,369.5" fill="none" stroke="#303030" stroke-width="0.45" stroke-linejoin="round" stroke-linecap="round" />
<path d="M455.5,346 L461,345.5 M455,352 L458.6,354.5 M452,369 L458,370.5 L463.3,372.5 M458,370.5 L458.5,376.5" fill="none" stroke="#303030" stroke-width="0.45" stroke-linejoin="round" stroke-linecap="round" />
<path d="M448,343 L451,341.5" fill="none" stroke="#303030" stroke-width="0.45" stroke-linejoin="round" stroke-linecap="round" />
</svg></div></body></html>
